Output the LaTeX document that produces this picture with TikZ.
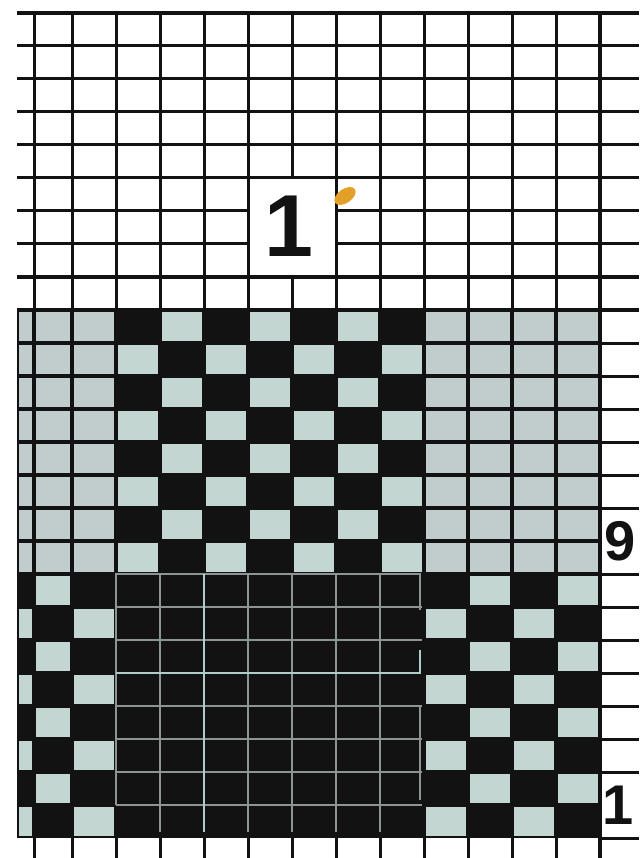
\documentclass[tikz,border=0pt]{standalone}
\usepackage{fontspec}
\setmainfont{Liberation Sans}
\definecolor{ink}{RGB}{18,18,18}
\definecolor{lightA}{RGB}{196,214,210}
\definecolor{lightB}{RGB}{193,205,204}
\definecolor{ghost}{RGB}{140,148,148}
\definecolor{ghostB}{RGB}{175,205,200}
\definecolor{smudge}{RGB}{226,160,40}
\tikzset{
  gridline/.style={draw=ink, line width=3pt},
  heavyline/.style={draw=ink, line width=4.5pt},
  ghostline/.style={draw=ghost, line width=1.4pt},
  ghostbright/.style={draw=ghostB, line width=2.2pt},
  bignum/.style={font=\bfseries\fontsize{88}{88}\selectfont, text=ink, inner sep=0pt},
  rownum/.style={font=\bfseries\fontsize{56}{56}\selectfont, text=ink, inner sep=0pt},
}
\begin{document}
\begin{tikzpicture}[x=1pt,y=-1pt]
\useasboundingbox (0,0) rectangle (639,858);
\fill[white] (0,0) rectangle (639,858);
% woven block
\fill[ink] (17,310) rectangle (600,838);
\foreach \r in {1,...,16}{
  \foreach \c in {0,...,13}{
    \pgfmathtruncatemacro\pp{mod(\r+\c,2)}
    \pgfmathtruncatemacro\kind{ifthenelse(\r>=9, ifthenelse(\c<=2 || \c>=10, 2, ifthenelse(\pp==0,1,0)), ifthenelse(\c<=2 || \c>=10, ifthenelse(\pp==1,1,0), 0))}
    \pgfmathsetmacro\xa{ifthenelse(\c==0,17,ifthenelse(\c==1,34,72+44*(\c-2)))+2}
    \pgfmathsetmacro\xb{ifthenelse(\c==0,34,ifthenelse(\c==1,72,72+44*(\c-1)))-2}
    \pgfmathsetmacro\ya{838-33*\r+2}
    \pgfmathsetmacro\yb{838-33*(\r-1)-2}
    \ifnum\kind=1 \fill[lightA] (\xa,\ya) rectangle (\xb,\yb);\fi
    \ifnum\kind=2 \fill[lightB] (\xa,\ya) rectangle (\xb,\yb);\fi
  }
}
% faint grid inside the dark block
\foreach \x in {160,248,292,336,380} \draw[ghostline] (\x,574) -- (\x,832);
\foreach \y in {607,640,706,739,772,805} \draw[ghostline] (116,\y) -- (422,\y);
\draw[ghostline] (116,805) -- (116,574) -- (420,574) -- (420,610);
\draw[ghostline] (420,706) -- (420,800);
\draw[ghostbright] (204,574) -- (204,832);
\draw[ghostbright] (116,673) -- (420,673) -- (420,650);
% upper grid
\foreach \x in {34,72,116,...,556} \draw[gridline] (\x,13) -- (\x,310);
\foreach \y in {46,79,...,277} \draw[gridline] (17,\y) -- (639,\y);
\draw[gridline, line width=4pt] (17,13) -- (639,13);
\draw[heavyline] (17,310) -- (639,310);
% right margin
\draw[gridline, line width=3.5pt] (600,13) -- (600,858);
\foreach \y in {343,376,409,442,475,508,574,607,640,673,706,739,772,838} \draw[gridline] (600,\y) -- (639,\y);
% stubs below
\foreach \x in {34,72,116,...,556} \draw[gridline] (\x,838) -- (\x,858);
% label 1 at top
\fill[white] (249.5,179.5) rectangle (334.5,275.5);
\node[bignum] (top1) at (289,226) {1};
\fill[smudge, rotate around={35:(345,196)}] (345,196) ellipse [x radius=12pt, y radius=7pt];
% row numbers
\node[rownum] (lab9) at (620,541) {9};
\node[rownum] (lab1) at (618,805) {1};
\end{tikzpicture}
\end{document}
